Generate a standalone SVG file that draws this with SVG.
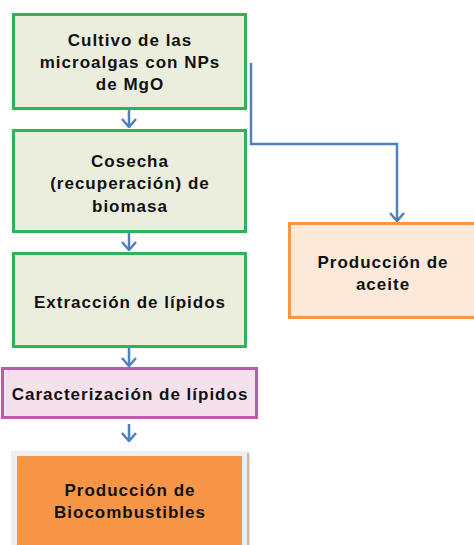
<svg xmlns="http://www.w3.org/2000/svg" width="474" height="545" viewBox="0 0 474 545">
<style>
.g{fill:#ebeedd;stroke:#2eb457;stroke-width:3}
.t{font-family:"Liberation Sans",Arial,sans-serif;font-weight:bold;font-size:17px;letter-spacing:1px;fill:#111;text-anchor:middle}
.c{fill:none;stroke:#4f81bd;stroke-width:2.5}
</style>
<defs>
<marker id="ah" viewBox="0 0 10 16" refX="9" refY="8" markerWidth="10" markerHeight="16" markerUnits="userSpaceOnUse" orient="auto">
<path d="M1,1 L9,8 L1,15" fill="none" stroke="#4f81bd" stroke-width="2.5"/>
</marker>
</defs>
<rect width="474" height="545" fill="#fff"/>
<g id="n1"><rect class="g" x="13.5" y="14.5" width="232" height="94"/>
<text class="t" x="130" y="46">Cultivo de las</text>
<text class="t" x="130" y="68">microalgas con NPs</text>
<text class="t" x="130" y="90">de MgO</text></g>
<g id="n2"><rect class="g" x="13.5" y="130.5" width="232" height="101"/>
<text class="t" x="130" y="167">Cosecha</text>
<text class="t" x="130" y="189">(recuperación) de</text>
<text class="t" x="130" y="212">biomasa</text></g>
<g id="n3"><rect class="g" x="13.5" y="253.5" width="232" height="93"/>
<text class="t" x="130" y="308">Extracción de lípidos</text></g>
<g id="n4"><rect x="2.5" y="368.5" width="254" height="49" fill="#f5e1ec" stroke="#be5aaa" stroke-width="3"/>
<text class="t" x="130" y="400">Caracterización de lípidos</text></g>
<g id="n5"><rect x="11" y="451" width="238" height="94" fill="#eeeeee"/>
<rect x="247" y="453" width="2.5" height="92" fill="#d2b6a6"/>
<rect x="17" y="456" width="225" height="89" fill="#f79646"/>
<text class="t" x="130" y="496">Producción de</text>
<text class="t" x="130" y="518">Biocombustibles</text></g>
<g id="n6"><rect x="289.5" y="223.5" width="190" height="94" fill="#fde9d9" stroke="#f79646" stroke-width="3"/>
<text class="t" x="383" y="268">Producción de</text>
<text class="t" x="383" y="290">aceite</text></g>
<g id="connectors">
<path class="c" d="M129,110 V127" marker-end="url(#ah)"/>
<path class="c" d="M129,233 V250" marker-end="url(#ah)"/>
<path class="c" d="M129,348 V366" marker-end="url(#ah)"/>
<path class="c" d="M129,424 V441" marker-end="url(#ah)"/>
<path class="c" d="M251,63 V144 H397 V221" marker-end="url(#ah)"/>
</g>
</svg>
